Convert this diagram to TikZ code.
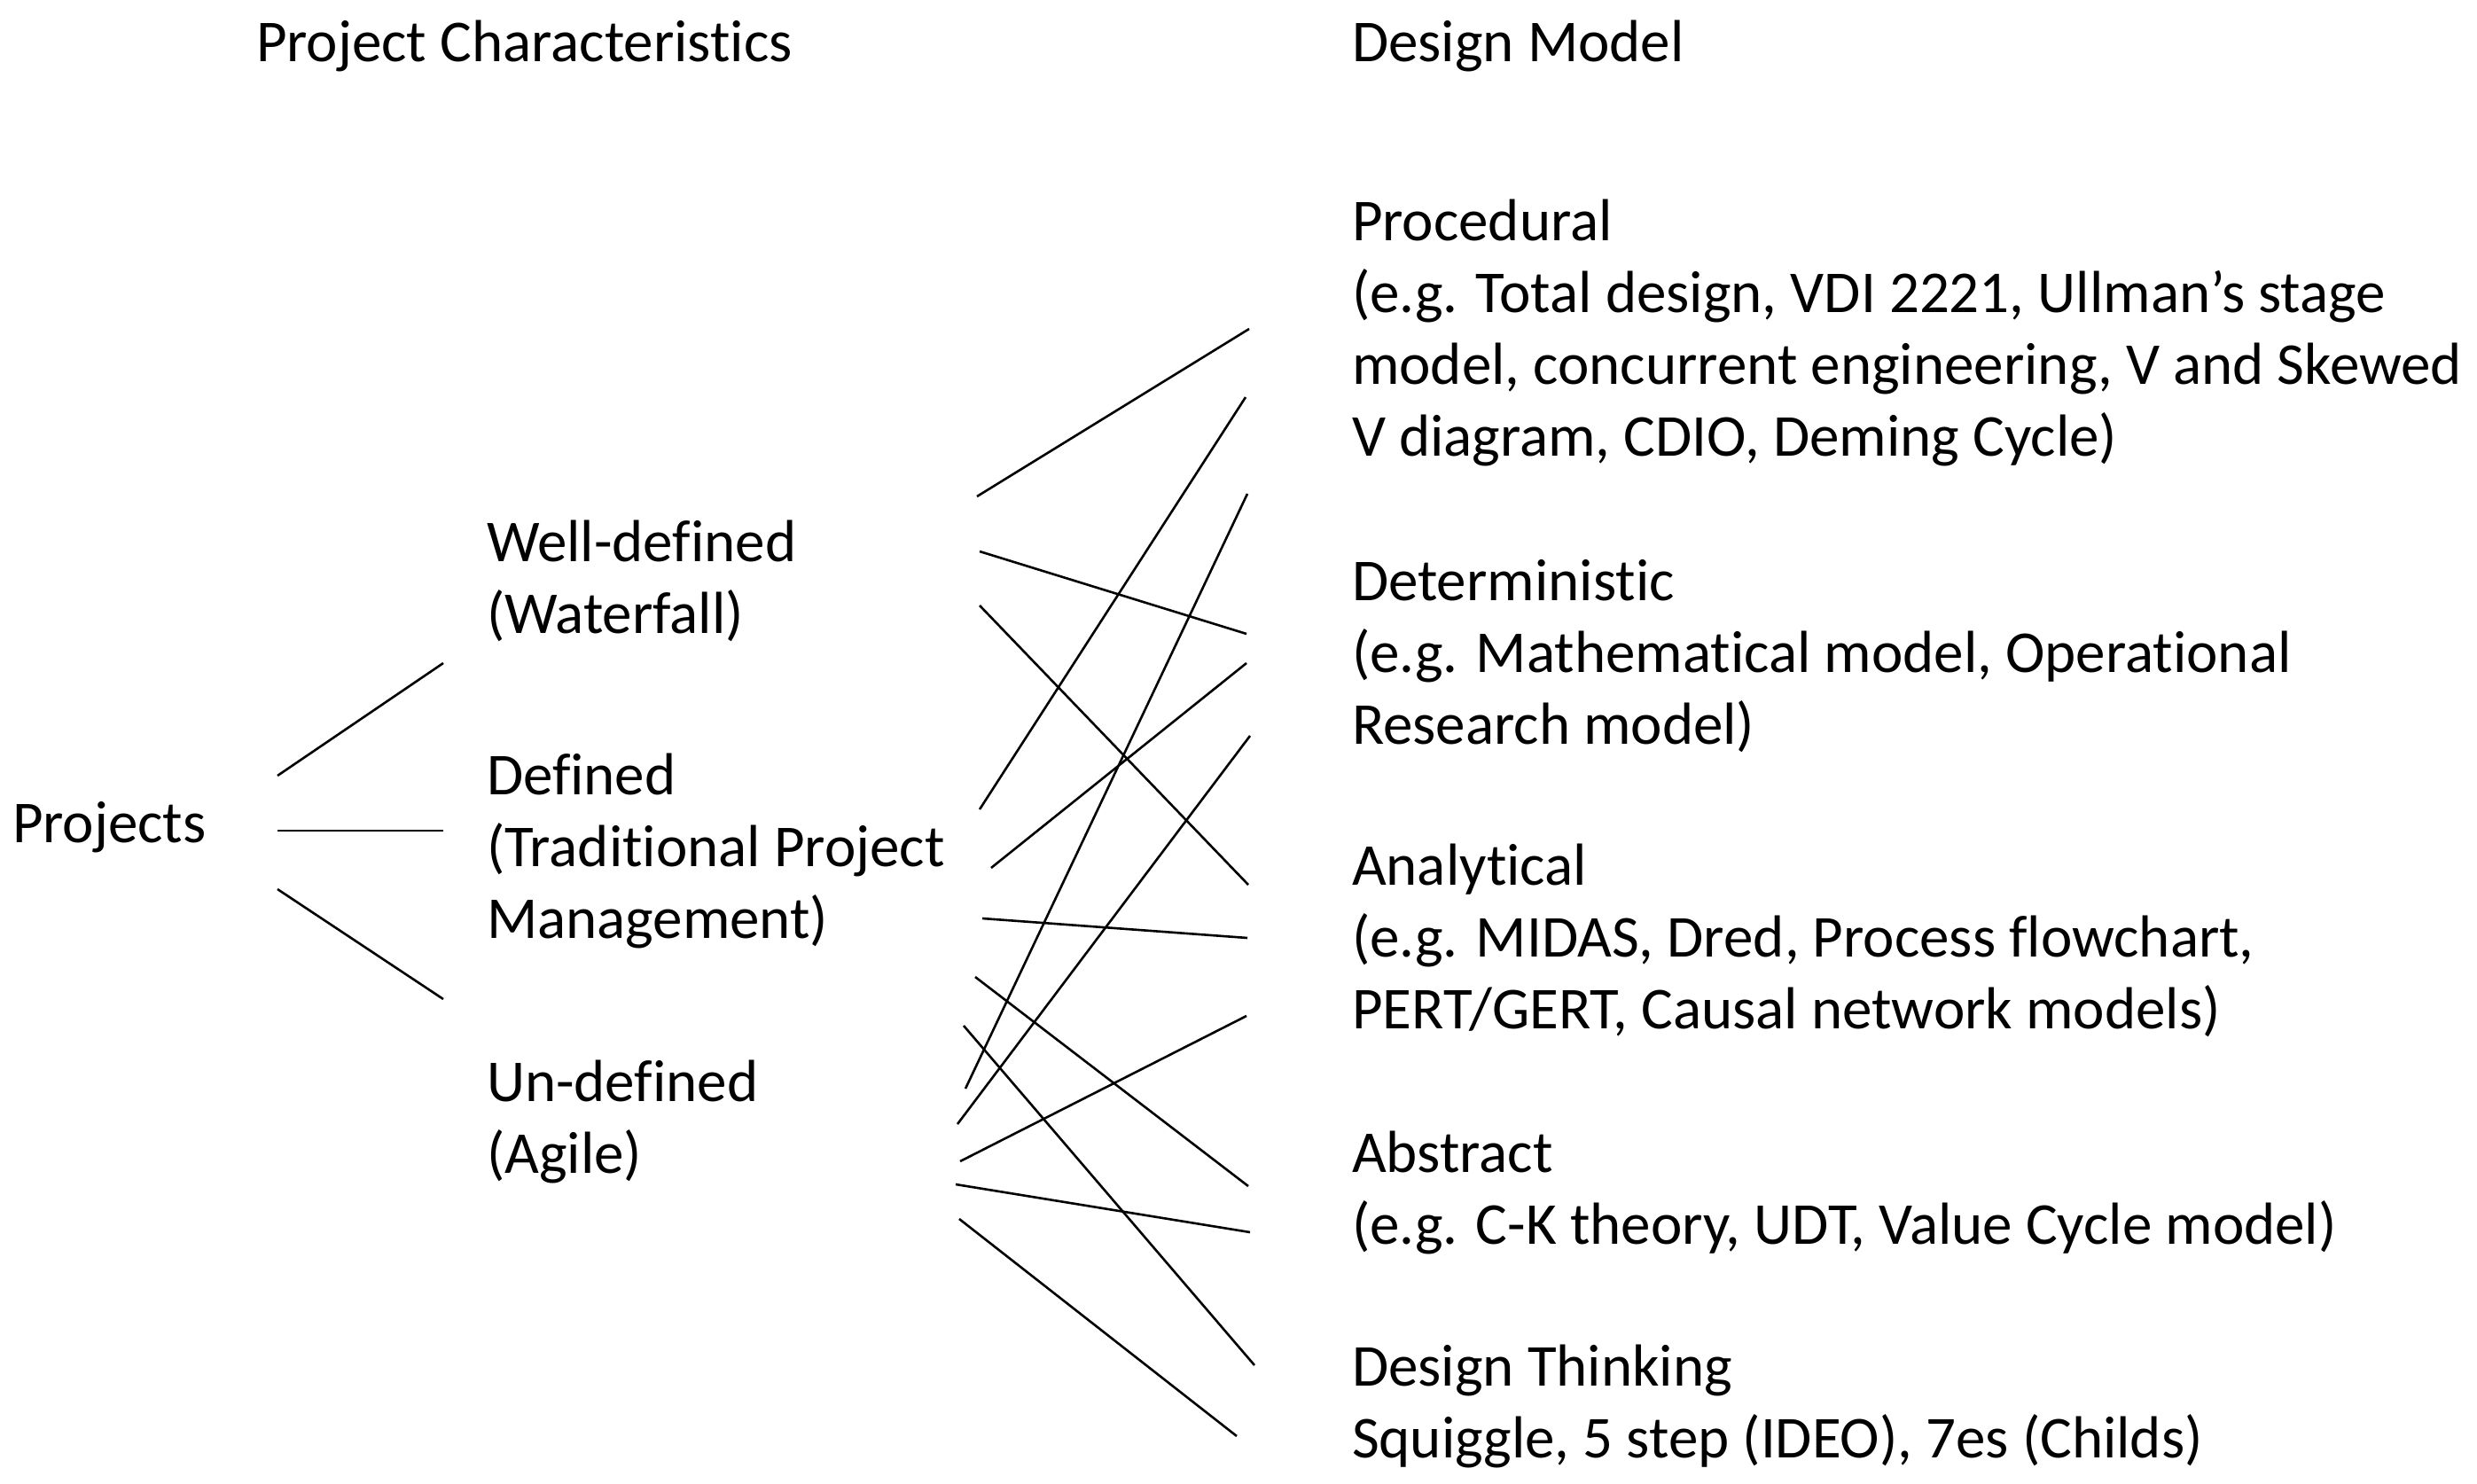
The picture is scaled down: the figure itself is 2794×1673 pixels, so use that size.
\documentclass[tikz,border=0pt]{standalone}
\usepackage{fontspec}
\setmainfont{Carlito}[Ligatures={NoCommon}]
\begin{document}
\begin{tikzpicture}[x=1pt,y=-1pt,
  lbl/.style={anchor=base west,inner sep=0pt,outer sep=0pt,font=\fontsize{67}{81}\selectfont},
  link/.style={line width=2.6pt}]
\useasboundingbox (0,0) rectangle (2794,1673);
\fill[white] (0,0) rectangle (2794,1673);
% headings
\node[lbl] (hpc) at (289,69) {Project Characteristics};
\node[lbl] (hdm) at (1525,69) {Design Model};
% left
\node[lbl] (proj) at (14,950) {Projects};
\node[lbl] (well) at (549,633) {\vtop{\hbox{Well-defined}\hbox{(Waterfall)}}};
\node[lbl] (def) at (549,896) {\vtop{\hbox{Defined}\hbox{(Traditional Project}\hbox{Management)}}};
\node[lbl] (und) at (549,1242) {\vtop{\hbox{Un-defined}\hbox{(Agile)}}};
% right
\node[lbl] (proc) at (1525,271) {\vtop{\hbox{Procedural}\hbox{(e.g. Total design, VDI 2221, Ullman’s stage}\hbox{model, concurrent engineering, V and Skewed}\hbox{V diagram, CDIO, Deming Cycle)}}};
\node[lbl] (det) at (1525,677) {\vtop{\hbox{Deterministic}\hbox{(e.g. Mathematical model, Operational}\hbox{Research model)}}};
\node[lbl] (ana) at (1525,998) {\vtop{\hbox{Analytical}\hbox{(e.g. MIDAS, Dred, Process flowchart,}\hbox{PERT/GERT, Causal network models)}}};
\node[lbl] (abs) at (1525,1322) {\vtop{\hbox{Abstract}\hbox{(e.g. C-K theory, UDT, Value Cycle model)}}};
\node[lbl] (dt) at (1525,1563) {\vtop{\hbox{Design Thinking}\hbox{Squiggle, 5 step (IDEO), 7es (Childs)}}};
% left connectors
\coordinate (pA) at (313,875); \coordinate (wA) at (500,748);
\coordinate (pB) at (313,937); \coordinate (dB) at (500,937);
\coordinate (pC) at (313,1003); \coordinate (uC) at (500,1127);
\draw[link] (pA) -- (wA);
\draw[link] (pB) -- (dB);
\draw[link] (pC) -- (uC);
% middle connectors
\coordinate (w1) at (1102,560); \coordinate (r1) at (1409,371);
\coordinate (w2) at (1105,622); \coordinate (r2) at (1406,715);
\coordinate (w3) at (1105,683); \coordinate (r3) at (1408,998);
\coordinate (d1) at (1105,913); \coordinate (r4) at (1405,448);
\coordinate (d2) at (1118,979); \coordinate (r5) at (1406,748);
\coordinate (d3) at (1108,1036); \coordinate (r6) at (1407,1058);
\coordinate (d4) at (1100,1102); \coordinate (r7) at (1408,1338);
\coordinate (u1) at (1087,1157); \coordinate (r8) at (1415,1540);
\coordinate (u2) at (1089,1228); \coordinate (r9) at (1407,557);
\coordinate (u3) at (1080,1268); \coordinate (r10) at (1410,830);
\coordinate (u4) at (1083,1310); \coordinate (r11) at (1406,1146);
\coordinate (u5) at (1078,1336); \coordinate (r12) at (1410,1390);
\coordinate (u6) at (1082,1375); \coordinate (r13) at (1395,1620);
\foreach \a/\b in {w1/r1,w2/r2,w3/r3,d1/r4,d2/r5,d3/r6,d4/r7,u1/r8,u2/r9,u3/r10,u4/r11,u5/r12,u6/r13}
  \draw[link] (\a) -- (\b);
\end{tikzpicture}
\end{document}
